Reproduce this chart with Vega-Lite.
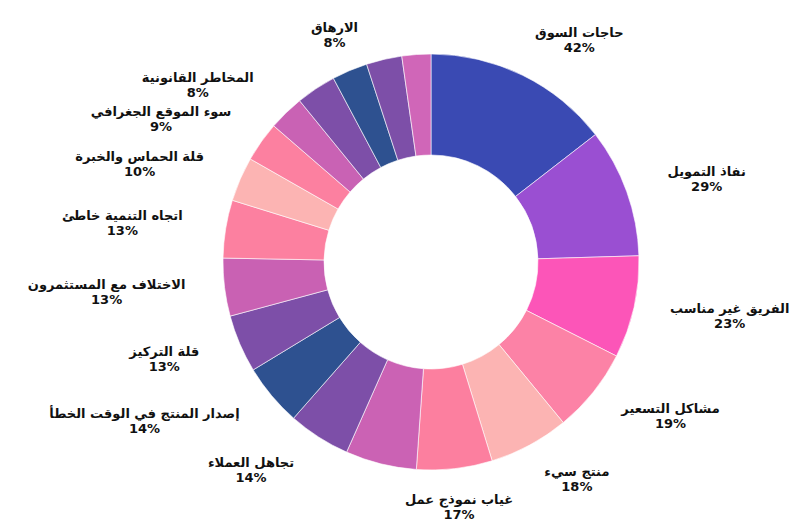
{
  "$schema": "https://vega.github.io/schema/vega-lite/v6.json",
  "width": 750,
  "height": 524,
  "autosize": {"type": "none"},
  "padding": {"left": 56, "top": 0, "right": 0, "bottom": 5},
  "background": "white",
  "view": {"stroke": null},
  "data": {
    "values": [
      {"n": 1, "reason": "حاجات السوق", "pct": "42%", "value": 42},
      {"n": 2, "reason": "نفاذ التمويل", "pct": "29%", "value": 29},
      {"n": 3, "reason": "الفريق غير مناسب", "pct": "23%", "value": 23},
      {"n": 4, "reason": "مشاكل التسعير", "pct": "19%", "value": 19},
      {"n": 5, "reason": "منتج سيء", "pct": "18%", "value": 18},
      {"n": 6, "reason": "غياب نموذج عمل", "pct": "17%", "value": 17},
      {"n": 7, "reason": "", "pct": "", "value": 16},
      {"n": 8, "reason": "تجاهل العملاء", "pct": "14%", "value": 14},
      {"n": 9, "reason": "إصدار المنتج في الوقت الخطأ", "pct": "14%", "value": 14},
      {"n": 10, "reason": "قلة التركيز", "pct": "13%", "value": 13},
      {"n": 11, "reason": "الاختلاف مع المستثمرون", "pct": "13%", "value": 13},
      {"n": 12, "reason": "اتجاه التنمية خاطئ", "pct": "13%", "value": 13},
      {"n": 13, "reason": "قلة الحماس والخبرة", "pct": "10%", "value": 10},
      {"n": 14, "reason": "سوء الموقع الجغرافي", "pct": "9%", "value": 9},
      {"n": 15, "reason": "المخاطر القانونية", "pct": "8%", "value": 8},
      {"n": 16, "reason": "", "pct": "", "value": 9},
      {"n": 17, "reason": "الارهاق", "pct": "8%", "value": 8},
      {"n": 18, "reason": "", "pct": "", "value": 8},
      {"n": 19, "reason": "", "pct": "", "value": 6.5}
    ]
  },
  "transform": [
    {"joinaggregate": [{"op": "sum", "field": "value", "as": "total"}]}
  ],
  "encoding": {
    "theta": {"field": "value", "type": "quantitative", "stack": true},
    "order": {"field": "n", "type": "quantitative"},
    "detail": {"field": "n", "type": "ordinal"}
  },
  "layer": [
    {
      "mark": {"type": "arc", "outerRadius": 208, "innerRadius": 107, "stroke": "#ffffff", "strokeOpacity": 0.6, "strokeWidth": 1},
      "encoding": {
        "color": {
          "field": "n",
          "type": "ordinal",
          "legend": null,
          "scale": {
            "range": ["#3a4ab3", "#9a4fd2", "#fc55b8", "#fc82a6", "#fcb4b3", "#fc7f9f", "#cb62b4", "#7d4fa8", "#2e5190", "#7d4fa8", "#c961b3", "#fc80a0", "#fcb4b3", "#fc80a0", "#c962b4", "#7d4fa8", "#2e5190", "#7d4fa8", "#d066b8"]
          }
        }
      }
    },
    {
      "mark": {
        "type": "text",
        "radius": 247,
        "dy": -7,
        "font": "DejaVu Sans",
        "fontWeight": "bold",
        "fontSize": 13,
        "fill": "#111111",
        "baseline": "middle",
        "align": "center",
        "dx": {"expr": "(sin(PI*(datum.value_start+datum.value_end)/datum.total) > 0.4 ? 1 : (sin(PI*(datum.value_start+datum.value_end)/datum.total) < -0.4 ? -1 : 0)) * length(datum.reason) * 3.6"}
      },
      "encoding": {"text": {"field": "reason", "type": "nominal"}}
    },
    {
      "mark": {
        "type": "text",
        "radius": 247,
        "dy": 8,
        "font": "DejaVu Sans",
        "fontWeight": "bold",
        "fontSize": 13,
        "fill": "#111111",
        "baseline": "middle",
        "align": "center",
        "dx": {"expr": "(sin(PI*(datum.value_start+datum.value_end)/datum.total) > 0.4 ? 1 : (sin(PI*(datum.value_start+datum.value_end)/datum.total) < -0.4 ? -1 : 0)) * length(datum.reason) * 3.6"}
      },
      "encoding": {"text": {"field": "pct", "type": "nominal"}}
    }
  ]
}
